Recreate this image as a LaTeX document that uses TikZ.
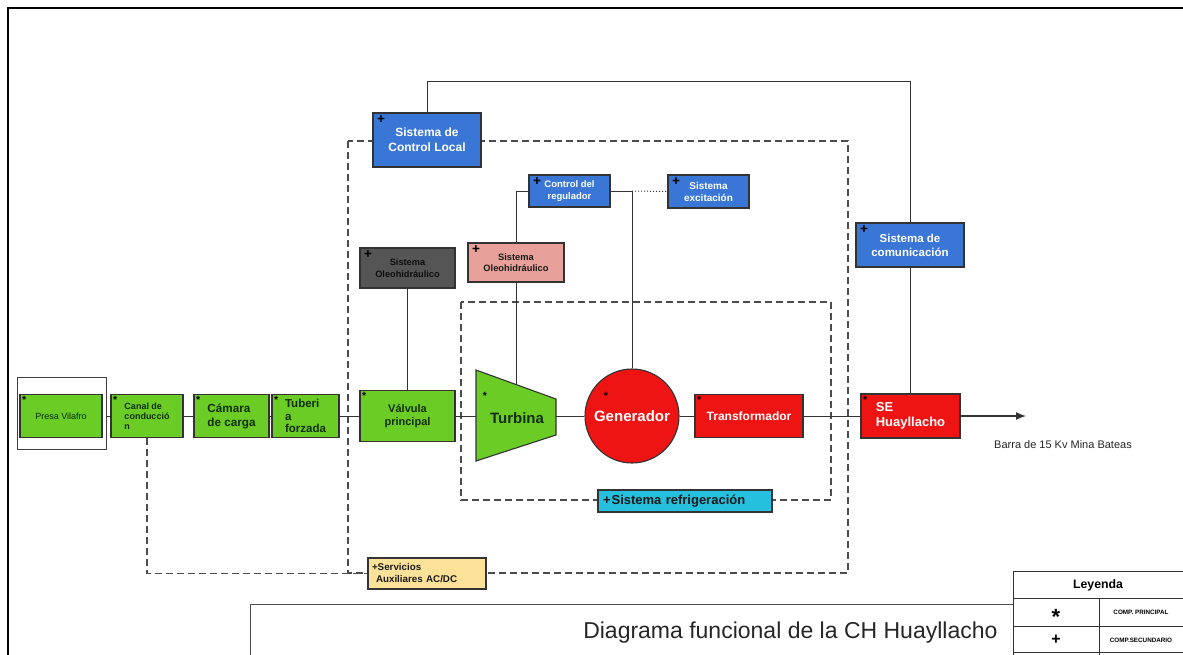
\documentclass[tikz,border=0pt]{standalone}
\usepackage{fontspec}
\setmainfont{Liberation Sans}
\usetikzlibrary{arrows.meta}
\definecolor{cgreen}{RGB}{106,204,36}
\definecolor{gtext}{RGB}{20,45,10}
\definecolor{cblue}{RGB}{58,118,214}
\definecolor{cred}{RGB}{238,20,20}
\definecolor{ccyan}{RGB}{36,192,222}
\definecolor{cpink}{RGB}{232,160,154}
\definecolor{cdark}{RGB}{85,85,85}
\definecolor{cyel}{RGB}{252,226,152}
\newcommand\fs[2]{\fontsize{#1}{#2}\selectfont}
\begin{document}
\begin{tikzpicture}[x=1pt,y=-1pt,
  box/.style={draw=black!80, line width=1.1pt, inner sep=1pt, align=center},
  gbox/.style={box, fill=cgreen, text=gtext},
  bbox/.style={box, fill=cblue, text=white},
  rbox/.style={box, fill=cred, text=white},
  ln/.style={line width=1pt, draw=black!80},
  dsh/.style={line width=1.1pt, draw=black!70, dash pattern=on 7pt off 4pt},
  pstar/.style={label={[anchor=north west, inner xsep=2.5pt, inner ysep=2.5pt, text=black, font=\bfseries\fs{10.5}{10.5}]north west:*}},
  pplus/.style={label={[anchor=north west, inner xsep=4.5pt, inner ysep=2.5pt, text=black, font=\bfseries\fs{13.5}{13.5}]north west:+}},
]
\useasboundingbox (0,0) rectangle (1183,654);

% outer frame
\draw[line width=2.2pt] (8,660) -- (8,8) -- (1190,8);

% dashed regions
\draw[dsh] (348,141) rectangle (848,573);
\draw[dsh] (461,302) rectangle (831,500);

% main row
\node[draw=black!75, line width=1pt, minimum width=89pt, minimum height=72pt] (presaO) at (61.5,413) {};
\node[gbox, minimum width=82pt, minimum height=43pt, pstar, text=black!70!green!60!black, font=\fs{9}{11}] (presa) at (61,416) {Presa Vilafro};
\node[gbox, minimum width=72pt, minimum height=43pt, pstar, font=\bfseries\fs{9}{10}, align=left] (canal) at (147,416) {Canal de\\conducció\\n};
\node[gbox, minimum width=75pt, minimum height=43pt, pstar, font=\bfseries\fs{11.7}{14}, align=left] (camara) at (231.5,416) {Cámara\\de carga};
\node[gbox, minimum width=67pt, minimum height=43pt, pstar, font=\bfseries\fs{11.5}{12.5}, align=left] (tub) at (305.5,416) {Tuberi\\a\\forzada};
\node[gbox, minimum width=95pt, minimum height=51pt, pstar, font=\bfseries\fs{11}{13.5}] (valv) at (407.5,416) {Válvula\\principal};

% turbine
\draw[line width=1.1pt, draw=black!80, fill=cgreen] (476,370) -- (556,399) -- (556,435) -- (476,461) -- cycle;
\coordinate (turbL) at (476,416);
\coordinate (turbR) at (556,416);
\coordinate (turbT) at (516,384.5);
\node[font=\bfseries\fs{15}{17}, text=gtext] (turb) at (517,418) {Turbina};
\node[font=\bfseries\fs{10.5}{10.5}, text=black] (turbstar) at (485,396) {*};

\node[circle, draw=black!80, line width=1.1pt, fill=cred, text=white, minimum size=94pt, inner sep=0pt, font=\bfseries\fs{15}{17}] (gen) at (632,416) {Generador};
\node[font=\bfseries\fs{10.5}{10.5}, text=black] (genstar) at (606,396) {*};

\node[rbox, minimum width=108pt, minimum height=43pt, pstar, font=\bfseries\fs{12}{14}] (trafo) at (749,416) {Transformador};
\node[rbox, minimum width=99pt, minimum height=44pt, pstar, font=\bfseries\fs{13}{15.5}, align=left] (se) at (910.5,416) {SE\\Huayllacho};
\coordinate (barraEnd) at (1026,416);
\node[font=\fs{11}{13}, text=black!85] (barra) at (1063,445) {Barra de 15 Kv Mina Bateas};

% control boxes
\node[bbox, minimum width=108pt, minimum height=54pt, pplus, font=\bfseries\fs{12}{15}] (ctrl) at (427,140) {Sistema de\\Control Local};
\node[bbox, minimum width=108pt, minimum height=44pt, pplus, font=\bfseries\fs{11.5}{14}] (comun) at (910,245) {Sistema de\\comunicación};
\node[bbox, minimum width=81pt, minimum height=32pt, pplus, font=\bfseries\fs{9.5}{11.5}] (regul) at (569.5,191) {Control del\\regulador};
\node[bbox, minimum width=81pt, minimum height=33pt, pplus, font=\bfseries\fs{10}{12}] (excit) at (708.5,191.5) {Sistema\\excitación};
\node[box, fill=cdark, text=black!95, minimum width=95pt, minimum height=40pt, pplus, font=\bfseries\fs{9.2}{11.5}] (oleo1) at (407.5,268) {Sistema\\Oleohidráulico};
\node[box, fill=cpink, text=black!90, minimum width=96pt, minimum height=39pt, pplus, font=\bfseries\fs{9.3}{11.5}] (oleo2) at (516,262.5) {Sistema\\Oleohidráulico};
\node[box, fill=ccyan, text=black!90, minimum width=174pt, minimum height=22pt, inner xsep=5pt, text width=164pt, align=left, font=\bfseries\fs{13}{15}] (refrig) at (685,501) {+\hspace{1pt}Sistema refrigeración};
\node[box, fill=cyel, text=black!90, minimum width=118pt, minimum height=31pt, inner xsep=4pt, text width=110pt, align=left, font=\bfseries\fs{9.8}{12}] (serv) at (427,573.5) {+Servicios\\\hspace*{4pt}Auxiliares AC/DC};
\coordinate (rj) at (632,191);

% connectors
\draw[ln] (presaO.east |- canal.west) -- (canal.west);
\draw[ln] (canal) -- (camara);
\draw[ln] (camara) -- (tub);
\draw[ln] (tub) -- (valv);
\draw[ln] (valv.east) -- (turbL);
\draw[ln] (turbR) -- (gen.west);
\draw[ln] (gen) -- (trafo);
\draw[ln] (trafo) -- (se);
\draw[ln, line width=1.3pt, -{Latex[length=10pt,width=8pt]}] (se.east) -- (barraEnd);
\draw[ln] (ctrl.north) -- ++(0,-31) -| (comun.north);
\draw[ln] (comun.south) -- (comun.south |- se.north);
\draw[ln] (oleo1) -- (valv);
\draw[ln] (regul.west) -| (oleo2.north);
\draw[ln] (oleo2.south) -- (turbT);
\draw[ln] (regul.east) -- (rj) -- (gen.north);
\draw[ln, dotted] (rj) -- (excit.west);
\draw[dsh] (canal.south) |- (serv.west);

% title block
\draw[line width=1pt, draw=black!70] (250,660) -- (250,604) -- (1013,604);
\node[font=\fs{23}{26}, text=black!85, anchor=east] (title) at (1001,633) {Diagrama funcional de la CH Huayllacho};

% legend
\draw[line width=1pt, draw=black!80] (1013,660) -- (1013,571) -- (1190,571);
\draw[line width=1pt, draw=black!80] (1013,598) -- (1190,598);
\draw[line width=1pt, draw=black!80] (1013,626) -- (1190,626);
\draw[line width=1pt, draw=black!80] (1013,652) -- (1190,652);
\draw[line width=1pt, draw=black!80] (1099,598) -- (1099,660);
\node[font=\bfseries\fs{12.3}{14}] (leyenda) at (1098,585) {Leyenda};
\node[font=\bfseries\fs{22}{22}] (lstar) at (1056,617) {*};
\node[font=\bfseries\fs{16}{16}] (lplus) at (1056,640) {+};
\node[font=\bfseries\fs{6.3}{7}] (lprin) at (1141,612) {COMP. PRINCIPAL};
\node[font=\bfseries\fs{6.3}{7}] (lsec) at (1141,640) {COMP.SECUNDARIO};
\end{tikzpicture}
\end{document}
